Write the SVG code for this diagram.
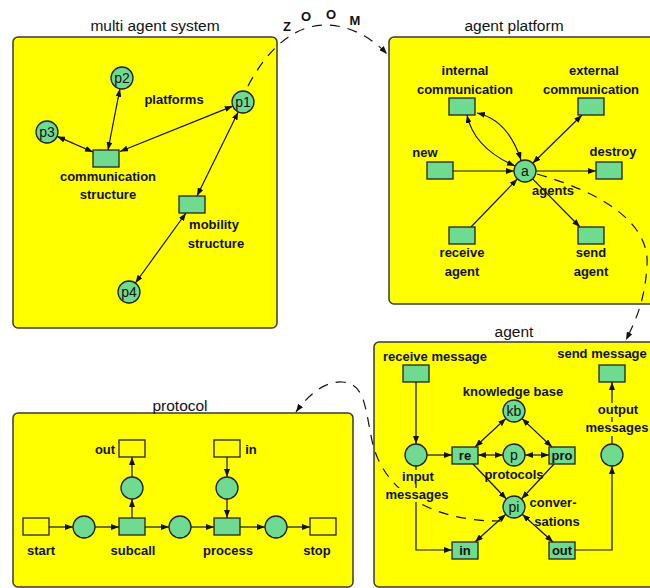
<svg xmlns="http://www.w3.org/2000/svg" width="650" height="588" viewBox="0 0 650 588">
<style>
.box{fill:#ffff00;stroke:#3a3a3a;stroke-width:1.5}
.title{font-family:"Liberation Sans",Arial,sans-serif;font-size:15.5px;fill:#111;text-anchor:middle}
.lbl{font-family:"Liberation Sans",Arial,sans-serif;font-size:13px;font-weight:bold;fill:#111;text-anchor:middle}
.zoom{font-family:"Liberation Sans",Arial,sans-serif;font-size:13px;font-weight:bold;fill:#111;text-anchor:middle}
.cl{font-family:"Liberation Sans",Arial,sans-serif;font-size:14px;fill:#111;text-anchor:middle}
.pl{fill:#6fdb90;stroke:#222;stroke-width:1.3}
.tr{fill:#6fdb90;stroke:#222;stroke-width:1.3}
.ytr{fill:#ffff00;stroke:#222;stroke-width:1.3}
.e{fill:none;stroke:#111;stroke-width:1.2;marker-end:url(#ah)}
.d{fill:none;stroke:#111;stroke-width:1.2;marker-start:url(#ah);marker-end:url(#ah)}
.dash{fill:none;stroke:#111;stroke-width:1.2;stroke-dasharray:10 8;marker-end:url(#ah)}
.bg{fill:#ffff00}
</style>
<defs>
<marker id="ah" viewBox="0 0 8 6" refX="8" refY="3" markerWidth="8" markerHeight="6" markerUnits="userSpaceOnUse" orient="auto-start-reverse"><path d="M0,0 L8,3 L0,6 z" fill="#111"/></marker>
</defs>

<!-- containers -->
<g id="mas">
<rect class="box" x="13" y="37" width="264" height="291" rx="5"/>
<text class="title" x="155" y="31">multi agent system</text>
</g>
<g id="platform">
<rect class="box" x="389" y="37" width="270" height="267" rx="5"/>
<text class="title" x="514" y="31">agent platform</text>
</g>
<g id="agent">
<rect class="box" x="374" y="342" width="285" height="245" rx="5"/>
<text class="title" x="514" y="337">agent</text>
</g>
<g id="protocol">
<rect class="box" x="13" y="413" width="340" height="174" rx="5"/>
<text class="title" x="180" y="411">protocol</text>
</g>

<!-- connectors -->
<g id="connectors">
<!-- multi agent system -->
<line class="d" x1="119.9" y1="88.8" x2="108" y2="150"/>
<line class="d" x1="57.1" y1="136.4" x2="93" y2="152"/>
<line class="d" x1="232.8" y1="106.1" x2="120" y2="151.5"/>
<line class="d" x1="238.2" y1="111.9" x2="197" y2="196"/>
<line class="d" x1="186" y1="213" x2="135.4" y2="283"/>
<!-- agent platform -->
<path class="d" d="M467,115 Q474,148 515,166"/>
<path class="d" d="M477,113 Q508,120 521,160"/>
<line class="d" x1="582" y1="115" x2="532.7" y2="163.2"/>
<line class="e" x1="453" y1="171" x2="514" y2="171"/>
<line class="e" x1="536" y1="171" x2="596" y2="171"/>
<line class="e" x1="471" y1="227" x2="517.4" y2="178.9"/>
<line class="e" x1="532.6" y1="178.9" x2="580" y2="227"/>
<!-- agent -->
<line class="e" x1="416" y1="382" x2="416" y2="444"/>
<line class="e" x1="427" y1="455" x2="452" y2="455"/>
<line class="d" x1="478" y1="455" x2="503" y2="455"/>
<line class="d" x1="525" y1="455" x2="549" y2="455"/>
<line class="d" x1="505.9" y1="418.5" x2="475" y2="447"/>
<line class="d" x1="522" y1="418.6" x2="552" y2="447"/>
<line class="e" x1="473" y1="464" x2="506.4" y2="499"/>
<line class="e" x1="554" y1="464" x2="521.5" y2="499"/>
<line class="d" x1="505.8" y1="514.3" x2="475" y2="542"/>
<line class="d" x1="522.2" y1="514.3" x2="553" y2="542"/>
<polyline class="e" points="416,466 416,550 452,550"/>
<polyline class="e" points="575,550 612,550 612,466"/>
<line class="e" x1="612" y1="444" x2="612" y2="382"/>
<!-- protocol -->
<line class="e" x1="49" y1="527" x2="73" y2="527"/>
<line class="e" x1="95" y1="527" x2="119" y2="527"/>
<line class="e" x1="145" y1="527" x2="169" y2="527"/>
<line class="e" x1="191" y1="527" x2="214" y2="527"/>
<line class="e" x1="240" y1="527" x2="265" y2="527"/>
<line class="e" x1="287" y1="527" x2="310" y2="527"/>
<line class="e" x1="132" y1="518" x2="132" y2="499"/>
<line class="e" x1="132" y1="477" x2="132" y2="457"/>
<line class="e" x1="227" y1="457" x2="227" y2="477"/>
<line class="e" x1="227" y1="499" x2="227" y2="518"/>
<!-- zoom links -->
<path class="dash" d="M248,86 C268,48 295,25 325,25 C350,25 372,38 387,54"/>
<path class="dash" d="M537,174 C600,192 650,222 647,265 C645,300 636,320 626,340"/>
<path class="dash" d="M502,521 C430,522 385,490 373,445 C365,410 366,383 342,382 C325,381 308,395 296,412"/>
</g>

<!-- multi agent system nodes -->
<g id="p1"><circle class="pl" cx="243" cy="102" r="11"/><text class="cl" x="243" y="107">p1</text></g>
<g id="p2"><circle class="pl" cx="122" cy="78" r="11"/><text class="cl" x="122" y="83">p2</text></g>
<g id="p3"><circle class="pl" cx="47" cy="132" r="11"/><text class="cl" x="47" y="137">p3</text></g>
<g id="p4"><circle class="pl" cx="129" cy="292" r="11"/><text class="cl" x="129" y="297">p4</text></g>
<g id="platforms-label"><text class="lbl" x="174" y="104">platforms</text></g>
<g id="comm-structure"><rect class="tr" x="93" y="150" width="26" height="17"/><text class="lbl" x="108" y="181">communication</text><text class="lbl" x="108" y="199">structure</text></g>
<g id="mobility-structure"><rect class="tr" x="179" y="196" width="26" height="17"/><text class="lbl" x="214" y="229">mobility</text><text class="lbl" x="216" y="248">structure</text></g>

<!-- zoom letters -->
<g id="zoom-text">
<text class="zoom" x="287" y="31">Z</text>
<text class="zoom" x="306" y="21">O</text>
<text class="zoom" x="331" y="19">O</text>
<text class="zoom" x="355" y="25">M</text>
</g>

<!-- agent platform nodes -->
<g id="a"><circle class="pl" cx="525" cy="171" r="11"/><text class="cl" x="525" y="176">a</text><text class="lbl" x="553" y="195">agents</text></g>
<g id="internal-communication"><rect class="tr" x="449" y="98" width="26" height="17"/><text class="lbl" x="465" y="75">internal</text><text class="lbl" x="465" y="94">communication</text></g>
<g id="external-communication"><rect class="tr" x="578" y="98" width="26" height="17"/><text class="lbl" x="594" y="75">external</text><text class="lbl" x="591" y="94">communication</text></g>
<g id="new"><rect class="tr" x="427" y="162" width="26" height="17"/><text class="lbl" x="425" y="157">new</text></g>
<g id="destroy"><rect class="tr" x="596" y="162" width="26" height="17"/><text class="lbl" x="613" y="156">destroy</text></g>
<g id="receive-agent"><rect class="tr" x="449" y="227" width="26" height="17"/><text class="lbl" x="462" y="257">receive</text><text class="lbl" x="462" y="276">agent</text></g>
<g id="send-agent"><rect class="tr" x="578" y="227" width="26" height="17"/><text class="lbl" x="591" y="257">send</text><text class="lbl" x="591" y="276">agent</text></g>

<!-- agent nodes -->
<g id="receive-message"><rect class="tr" x="403" y="365" width="26" height="17"/><text class="lbl" x="435" y="361">receive message</text></g>
<g id="send-message"><rect class="tr" x="599" y="365" width="26" height="17"/><text class="lbl" x="602" y="358">send message</text></g>
<g id="input-messages"><circle class="pl" cx="416" cy="455" r="11"/><rect class="bg" x="396" y="470" width="44" height="14"/><rect class="bg" x="386" y="488" width="62" height="14"/><text class="lbl" x="418" y="481">input</text><text class="lbl" x="417" y="499">messages</text></g>
<g id="kb"><circle class="pl" cx="514" cy="411" r="11"/><text class="cl" x="514" y="416">kb</text><text class="lbl" x="513" y="396">knowledge base</text></g>
<g id="re"><rect class="tr" x="452" y="447" width="26" height="17"/><text class="lbl" x="465" y="460">re</text></g>
<g id="p"><circle class="pl" cx="514" cy="455" r="11"/><text class="cl" x="514" y="460">p</text><text class="lbl" x="514" y="479">protocols</text></g>
<g id="pro"><rect class="tr" x="549" y="447" width="26" height="17"/><text class="lbl" x="562" y="460">pro</text></g>
<g id="output-messages"><circle class="pl" cx="612" cy="455" r="11"/><rect class="bg" x="594" y="403" width="48" height="14"/><rect class="bg" x="586" y="422" width="66" height="14"/><text class="lbl" x="618" y="414">output</text><text class="lbl" x="617" y="432">messages</text></g>
<g id="pi"><circle class="pl" cx="514" cy="507" r="11"/><text class="cl" x="514" y="512">pi</text><text class="lbl" x="553" y="507">conver-</text><text class="lbl" x="557" y="526">sations</text></g>
<g id="in"><rect class="tr" x="452" y="542" width="26" height="17"/><text class="lbl" x="465" y="555">in</text></g>
<g id="out"><rect class="tr" x="549" y="542" width="26" height="17"/><text class="lbl" x="562" y="555">out</text></g>

<!-- protocol nodes -->
<g id="start"><rect class="ytr" x="23" y="518" width="26" height="17"/><text class="lbl" x="41" y="555">start</text></g>
<g id="pc1"><circle class="pl" cx="84" cy="527" r="11"/></g>
<g id="subcall"><rect class="tr" x="119" y="518" width="26" height="17"/><text class="lbl" x="133" y="555">subcall</text></g>
<g id="pc2"><circle class="pl" cx="180" cy="527" r="11"/></g>
<g id="process"><rect class="tr" x="214" y="518" width="26" height="17"/><text class="lbl" x="228" y="555">process</text></g>
<g id="pc3"><circle class="pl" cx="276" cy="527" r="11"/></g>
<g id="stop"><rect class="ytr" x="310" y="518" width="26" height="17"/><text class="lbl" x="317" y="555">stop</text></g>
<g id="pc-out"><circle class="pl" cx="132" cy="488" r="11"/></g>
<g id="pout"><rect class="ytr" x="119" y="440" width="26" height="17"/><text class="lbl" x="105" y="454">out</text></g>
<g id="pc-in"><circle class="pl" cx="227" cy="488" r="11"/></g>
<g id="pin"><rect class="ytr" x="214" y="440" width="26" height="17"/><text class="lbl" x="251" y="454">in</text></g>
</svg>
